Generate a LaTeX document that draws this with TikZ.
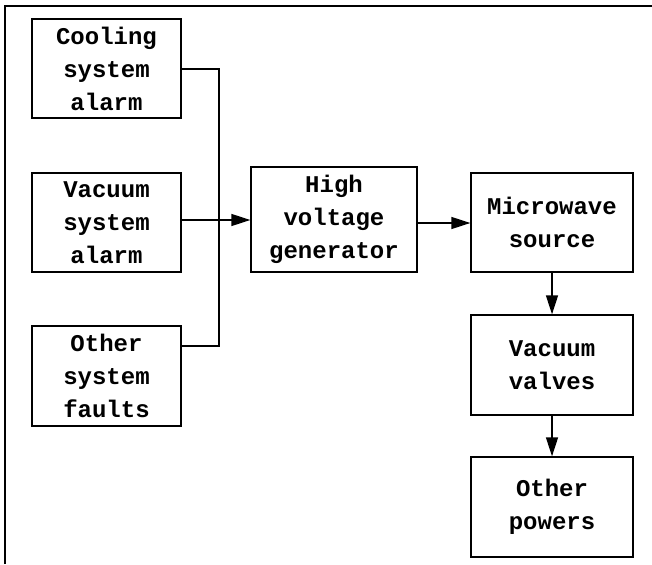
\documentclass[tikz,border=0pt]{standalone}
\usepackage{fontspec}
\setmonofont{Liberation Mono}
\usetikzlibrary{arrows.meta}
\tikzset{
    blk/.style={draw, line width=1.3pt, inner sep=0pt, align=center,
        font=\ttfamily\bfseries\fontsize{24}{33}\selectfont},
    arr/.style={line width=1.3pt, -{Triangle[length=19pt, width=12pt]}}
}
\begin{document}
\begin{tikzpicture}[x=1pt, y=-1pt]
        \useasboundingbox (0,0) rectangle (652,564);
        % marco
        \draw[line width=2.5pt] (5,564) -- (5,6) -- (652,6);
        % alarmas
        \node[blk, minimum width=149pt, minimum height=99pt] (cool) at (106.5,68.5) {Cooling\\system\\alarm};
        \node[blk, minimum width=149pt, minimum height=99pt] (vacalarm) at (106.5,222.5) {Vacuum\\system\\alarm};
        \node[blk, minimum width=149pt, minimum height=100pt] (otherflt) at (106.5,376) {Other\\system\\faults};
        % cadena de potencia
        \node[blk, minimum width=166pt, minimum height=105pt] (hv) at (334,219.5) {High\\voltage\\generator};
        \node[blk, minimum width=162pt, minimum height=99pt] (mw) at (552,222.5) {Microwave\\source};
        \node[blk, minimum width=162pt, minimum height=100pt] (valves) at (552,365) {Vacuum\\valves};
        \node[blk, minimum width=162pt, minimum height=100pt] (powers) at (552,507) {Other\\powers};
        % bus de entradas
        \coordinate (bustop) at (219,69);
        \coordinate (busbot) at (219,346);
        \draw[line width=1.3pt] (cool.east |- bustop) -- (bustop) -- (busbot) -- (otherflt.east |- busbot);
        \draw[arr] (vacalarm.east |- 0,220) -- (hv.west |- 0,220);
        \draw[arr] (hv.east |- 0,223) -- (mw.west |- 0,223);
        \draw[arr] (mw.south) -- (valves.north);
        \draw[arr] (valves.south) -- (powers.north);
    \end{tikzpicture}
\end{document}
